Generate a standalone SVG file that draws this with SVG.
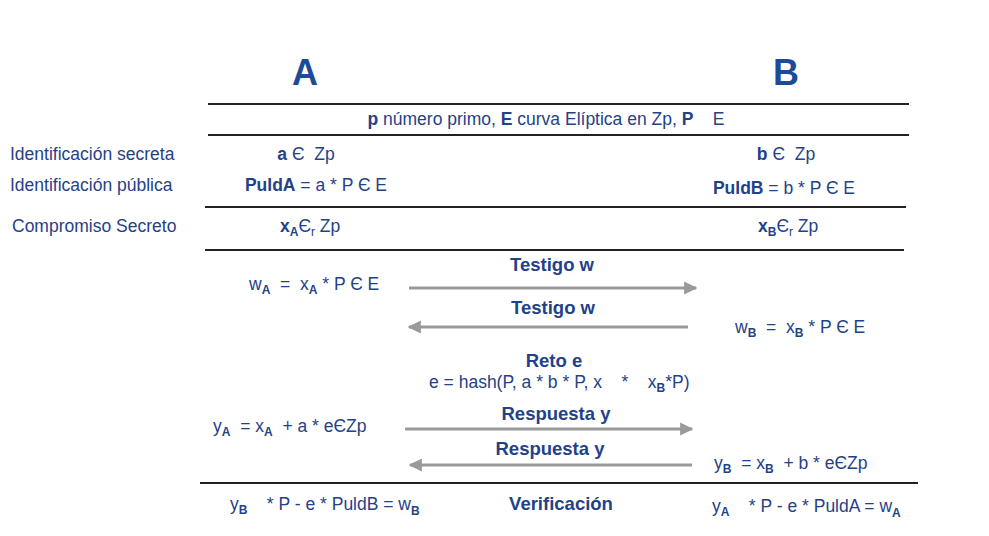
<svg xmlns="http://www.w3.org/2000/svg" width="989" height="536" viewBox="0 0 989 536">
<defs>
<marker id="ah" viewBox="0 0 10 10" refX="9" refY="5" markerWidth="4.4" markerHeight="4.8" orient="auto" markerUnits="strokeWidth">
<path d="M0,0 L10,5 L0,10 z" fill="#9a9a9a"/>
</marker>
<style>
text{font-family:"Liberation Sans",Arial,sans-serif;font-size:17.5px;fill:#1f4288;white-space:pre}
.b{font-weight:bold}
.l{font-size:18.5px;font-weight:bold}
.h{font-size:36px;font-weight:bold;fill:#1f4a9a}
.m{text-anchor:middle}
.s{font-size:12px}
.rule{stroke:#222;stroke-width:2}
.arr{stroke:#9a9a9a;stroke-width:3;fill:none;marker-end:url(#ah)}
</style>
</defs>
<rect width="989" height="536" fill="#fff"/>
<g id="rules">
<line class="rule" x1="208" y1="104" x2="909" y2="104"/>
<line class="rule" x1="208" y1="135" x2="909" y2="135"/>
<line class="rule" x1="205" y1="207" x2="906" y2="207"/>
<line class="rule" x1="205" y1="250" x2="904" y2="250"/>
<line class="rule" x1="200" y1="483" x2="918" y2="483"/>
</g>
<g id="headA"><text class="h m" x="305" y="85">A</text></g>
<g id="headB"><text class="h m" x="786" y="85">B</text></g>
<g id="params"><text class="m" x="546" y="125"><tspan class="b">p</tspan> número primo, <tspan class="b">E</tspan> curva Elíptica en Zp, <tspan class="b">P</tspan>    E</text></g>
<g id="labels">
<text x="10" y="160">Identificación secreta</text>
<text x="10" y="191">Identificación pública</text>
<text x="12" y="232">Compromiso Secreto</text>
</g>
<g id="A-secret"><text class="m" x="306" y="160"><tspan class="b">a</tspan> Є  Zp</text></g>
<g id="A-public"><text class="m" x="316" y="191"><tspan class="b">PuldA</tspan> = a * P Є E</text></g>
<g id="B-secret"><text class="m" x="786" y="160"><tspan class="b">b</tspan> Є  Zp</text></g>
<g id="B-public"><text class="m" x="784" y="194"><tspan class="b">PuldB</tspan> = b * P Є E</text></g>
<g id="A-commit"><text x="280" y="232"><tspan class="b">x</tspan><tspan class="s b" dy="4">A</tspan><tspan dy="-4">Є</tspan><tspan class="s" dy="4">r</tspan><tspan dy="-4"> Zp</tspan></text></g>
<g id="B-commit"><text x="758" y="232"><tspan class="b">x</tspan><tspan class="s b" dy="4">B</tspan><tspan dy="-4">Є</tspan><tspan class="s" dy="4">r</tspan><tspan dy="-4"> Zp</tspan></text></g>
<g id="wA"><text x="249" y="290">w<tspan class="s b" dy="4">A</tspan><tspan dy="-4">  =  x</tspan><tspan class="s b" dy="4">A</tspan><tspan dy="-4"> * P Є E</tspan></text></g>
<g id="wB"><text x="735" y="333">w<tspan class="s b" dy="4">B</tspan><tspan dy="-4">  =  x</tspan><tspan class="s b" dy="4">B</tspan><tspan dy="-4"> * P Є E</tspan></text></g>
<g id="reto">
<text class="l m" x="554" y="367">Reto e</text>
<text x="429" y="388">e = hash(P, a * b * P, x    *    x<tspan class="s b" dy="4">B</tspan><tspan dy="-4">*P)</tspan></text>
</g>
<g id="yA"><text x="213" y="432">y<tspan class="s b" dy="4">A</tspan><tspan dy="-4">  = x</tspan><tspan class="s b" dy="4">A</tspan><tspan dy="-4">  + a * eЄZp</tspan></text></g>
<g id="yB"><text x="714" y="469">y<tspan class="s b" dy="4">B</tspan><tspan dy="-4">  = x</tspan><tspan class="s b" dy="4">B</tspan><tspan dy="-4">  + b * eЄZp</tspan></text></g>
<g id="verifA"><text x="230" y="510">y<tspan class="s b" dy="4">B</tspan><tspan dy="-4">    * P - e * PuldB = w</tspan><tspan class="s b" dy="5">B</tspan></text></g>
<g id="verif"><text class="l m" x="561" y="510">Verificación</text></g>
<g id="verifB"><text x="712" y="512">y<tspan class="s b" dy="4">A</tspan><tspan dy="-4">    * P - e * PuldA = w</tspan><tspan class="s b" dy="5">A</tspan></text></g>
<g id="connectors">
<line class="arr" x1="409" y1="288" x2="696" y2="288"/>
<text class="l m" x="552" y="271">Testigo w</text>
<line class="arr" x1="688" y1="327" x2="409" y2="327"/>
<text class="l m" x="553" y="314">Testigo w</text>
<line class="arr" x1="405" y1="429" x2="692" y2="429"/>
<text class="l m" x="556" y="420">Respuesta y</text>
<line class="arr" x1="692" y1="465" x2="410" y2="465"/>
<text class="l m" x="550" y="455">Respuesta y</text>
</g>
</svg>
